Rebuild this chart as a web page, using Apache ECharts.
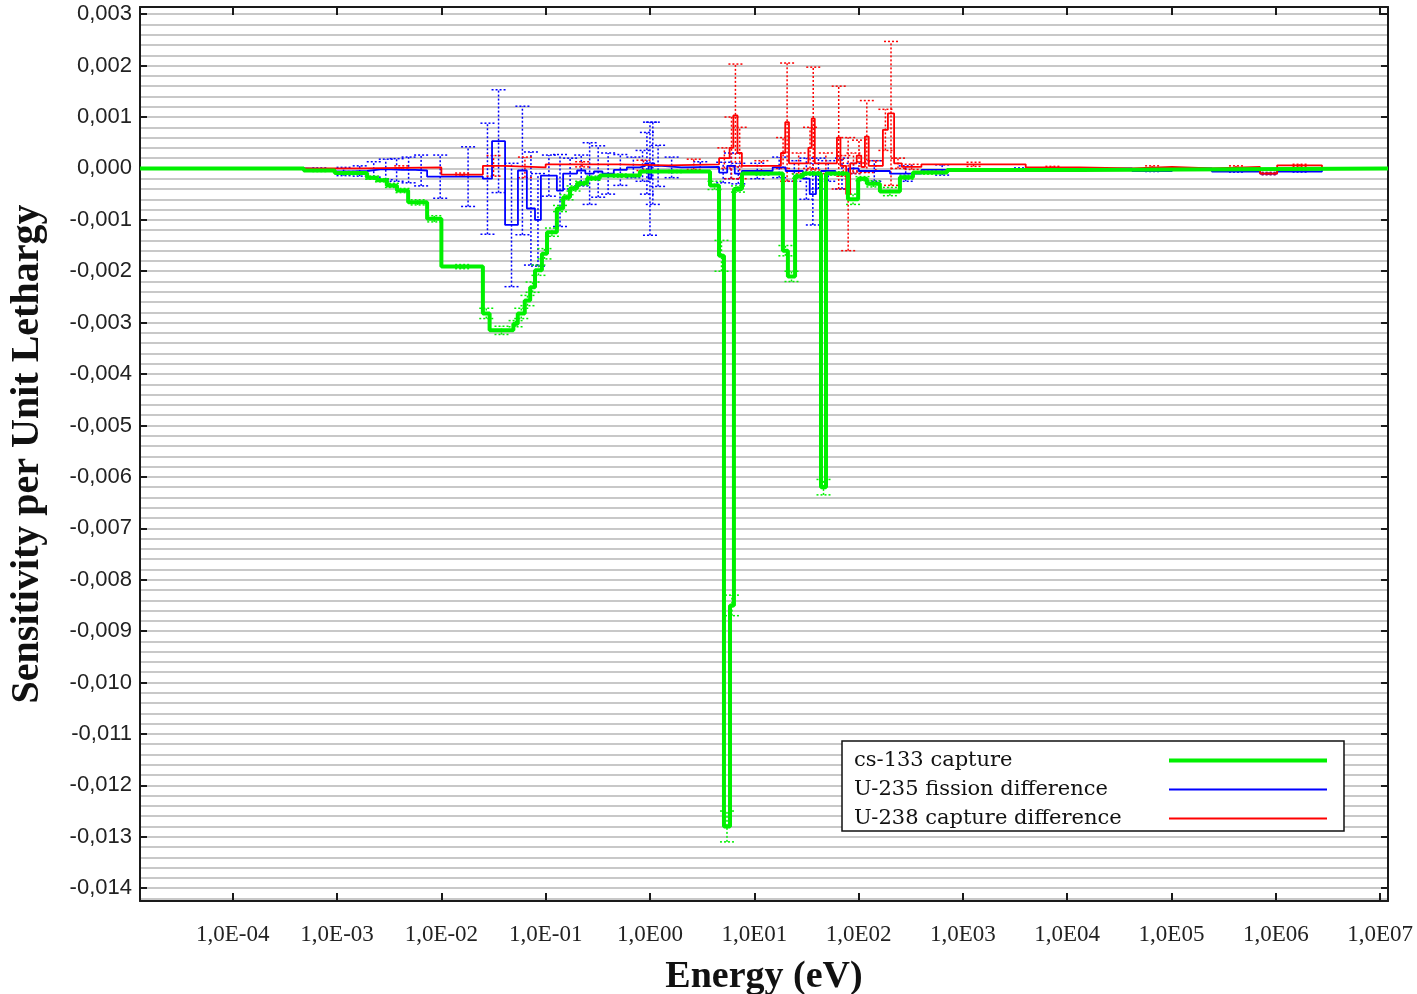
<!DOCTYPE html>
<html>
<head>
<meta charset="utf-8">
<title>Sensitivity per Unit Lethargy</title>
<script src="https://cdn.jsdelivr.net/npm/echarts@6/dist/echarts.min.js"></script>
<style>
  html, body { margin: 0; padding: 0; background: #fff; }
  #chart { width: 1417px; height: 994px; }
</style>
</head>
<body>
<div id="chart"></div>
<script>
// group boundaries (eV), sensitivity per group and 1-sigma error
const csEdges = [1.29e-5, 4.8e-4, 9.5e-4, 1.94e-3, 2.42e-3, 3.0e-3, 3.75e-3, 4.8e-3, 7.3e-3, 1.0e-2,
  2.5e-2, 2.9e-2, 4.9e-2, 5.4e-2, 6.3e-2, 7.1e-2, 7.9e-2, 9.2e-2, 0.103, 0.128, 0.147, 0.171, 0.2,
  0.25, 0.33, 0.8, 3.76, 4.59, 5.12, 5.85, 6.38, 7.62, 18.8, 21.0, 24.6, 29.3, 43.6, 48.7, 79, 99,
  120, 160, 249, 332, 705, 13270, 1.19e7]
const csValues = [0, -0.00004, -0.00009, -0.00018, -0.00023, -0.00033, -0.00043, -0.00066, -0.00098,
  -0.00191, -0.00282, -0.00315, -0.00302, -0.00282, -0.00257, -0.00231, -0.00198, -0.00166, -0.00124,
  -0.00078, -0.00056, -0.00039, -0.00029, -0.00019, -0.00014, -0.00006, -0.00033, -0.0017, -0.0128,
  -0.0085, -0.0004, -0.0001, -0.0016, -0.0021, -0.00015, -0.0001, -0.0062, -0.0001, -0.0006, -0.0002,
  -0.0003, -0.00045, -0.00017, -0.00008, -0.00003, 0]
const csErrors = [0, 0.00002, 0.00003, 0.00003, 0.00003, 0.00004, 0.00004, 0.00005, 0.00006, 0.00004,
  0.0001, 0.00008, 0.00006, 0.0001, 0.0001, 0.0001, 0.0001, 0.0001, 0.00008, 0.00006, 0.00005, 0.00005,
  0.00004, 0.00004, 0.00003, 0.00002, 0.00008, 0.0003, 0.0003, 0.0002, 0.00006, 0.00003, 0.0001, 0.0001,
  0.00004, 0.00003, 0.00015, 0.00003, 0.0001, 0.00004, 0.00006, 0.00008, 0.00004, 0.00003, 0.00002, 0]

const u235Edges = [1.29e-5, 4.8e-4, 9.5e-4, 1.4e-3, 1.94e-3, 2.6e-3, 3.3e-3, 4.2e-3, 5.6e-3, 7.3e-3,
  1.3e-2, 2.5e-2, 3.06e-2, 4.08e-2, 5.42e-2, 6.6e-2, 7.9e-2, 9.0e-2, 0.128, 0.147, 0.2, 0.24, 0.29,
  0.35, 0.45, 0.6, 0.8, 0.9, 0.97, 1.03, 1.1, 1.3, 2.0, 4.6, 5.5, 6.5, 7.6, 15, 20, 29.3, 34, 39, 43.6,
  60, 80, 100, 200, 400, 1000, 1.3e4, 4.2e4, 1.01e5, 2.44e5, 7.06e5, 1.03e6, 2.77e6, 1.19e7]
const u235Values = [0, -0.00002, -0.00006, -0.00005, -0.00002, -0.00002, -0.00003, -0.00003, -0.00004,
  -0.00016, -0.00016, -0.0002, 0.00053, -0.0011, -0.00004, -0.00078, -0.001, -0.00014, -0.00043,
  -0.0001, -0.00004, -0.0001, -0.00006, -0.0001, -0.00003, 0.00002, 0.00005, 0.0001, -0.0002, 0.0001,
  0.00005, 0.00002, 0.00003, -0.00008, 0.00005, -0.0001, -0.00005, 0.00002, -0.00005, -0.0002, -0.0005,
  -0.0001, -0.00005, -0.0001, 0, -0.00005, -0.0001, -0.00003, -0.00002, 0, -0.00005, 0, -0.00006,
  -0.0001, -0.00006, 0]
const u235Errors = [0, 0.00003, 0.00008, 0.0001, 0.00015, 0.0002, 0.00022, 0.00025, 0.0003, 0.00042,
  0.00058, 0.00108, 0.001, 0.0012, 0.00125, 0.0011, 0.0009, 0.0004, 0.0007, 0.0003, 0.0003, 0.0006,
  0.0005, 0.0004, 0.0003, 0.0002, 0.0003, 0.0006, 0.0011, 0.0008, 0.0004, 0.0002, 0.0001, 0.0002,
  0.00025, 0.0002, 0.00015, 0.0002, 0.0002, 0.0004, 0.0006, 0.0003, 0.0002, 0.0003, 0.0001, 0.0002,
  0.00015, 0.0001, 0.00003, 0, 0.00001, 0, 0.00001, 0.00002, 0.00001, 0]

const u238Edges = [1.29e-5, 1.7e-3, 1.0e-2, 2.5e-2, 4.0e-2, 0.1, 0.5, 1.5, 4.6, 5.8, 6.3, 6.9, 7.6, 18,
  19.8, 21.5, 33, 35.5, 38, 62, 67, 76, 83, 96, 106, 115, 125, 171, 191, 219, 260, 400, 4000, 1.3e4,
  4.2e4, 1.01e5, 2.44e5, 7.06e5, 1.03e6, 2.77e6, 1.19e7]
const u238Values = [0, 0.00002, -0.00012, 0.00005, 0.00002, 0.00008, 0.00006, 0.00008, 0.0002, 0.0004,
  0.00103, 0.0003, 0.00005, 0.0003, 0.0009, 0.0001, 0.0004, 0.00097, 0.0001, 0.0006, 0.00005, -0.0005,
  0.0001, 0.00025, 0.00003, 0.00062, 0.00005, 0.00075, 0.00107, 0.0001, 0.00003, 0.00008, 0.00002, 0,
  0.00003, 0, 0.00003, -0.0001, 0.00006, 0]
const u238Errors = [0, 0.00003, 0.00003, 0.0002, 0.0002, 0.00005, 0.0001, 0.0001, 0.0002, 0.0006, 0.001,
  0.0005, 0.0001, 0.0003, 0.00115, 0.0002, 0.0004, 0.001, 0.0002, 0.001, 0.0002, 0.0011, 0.0002, 0.0003,
  0.0001, 0.0007, 0.0001, 0.0004, 0.0014, 0.0001, 0.00005, 0.00004, 0.00002, 0, 0.00002, 0, 0.00002,
  0.00002, 0.00002, 0]

const seriesNames = ['cs-133 capture', 'U-235 fission difference', 'U-238 capture difference']
const seriesColors = ['#00f000', '#0000ff', '#ff0000']
const seriesWidths = [4, 1.8, 1.8]

const xMin = 1.29e-5
const xMax = 1.19e7

// histogram -> points for a step line (last value held to the upper edge)
const toSteps = (edges, values) => {
  const pts = values.map((v, i) => [edges[i], v])
  pts.push([edges[edges.length - 1], values[values.length - 1]])
  return pts
}

// one error bar per group, at the log-centre of the group
const toErrors = (edges, values, errs) => values
  .map((v, i) => [Math.sqrt(edges[i] * edges[i + 1]), v - errs[i], v + errs[i], errs[i]])
  .filter(d => d[3] > 0)

const errorBar = (color) => (params, api) => {
  const lo = api.coord([api.value(0), api.value(1)])
  const hi = api.coord([api.value(0), api.value(2)])
  const style = { stroke: color, lineWidth: 1.5, lineDash: [2, 2], fill: null }
  const w = 7
  return {
    type: 'group',
    children: [
      { type: 'line', shape: { x1: lo[0], y1: lo[1], x2: hi[0], y2: hi[1] }, style },
      { type: 'line', shape: { x1: lo[0] - w, y1: lo[1], x2: lo[0] + w, y2: lo[1] }, style },
      { type: 'line', shape: { x1: hi[0] - w, y1: hi[1], x2: hi[0] + w, y2: hi[1] }, style }
    ]
  }
}

const stepSeries = (k, data) => ({
  name: seriesNames[k], type: 'line', step: 'end', data,
  xAxisIndex: 0, yAxisIndex: 0,
  symbol: 'none', showSymbol: false,
  lineStyle: { color: seriesColors[k], width: seriesWidths[k] },
  itemStyle: { color: seriesColors[k] },
  animation: false
})

const errorSeries = (k, data) => ({
  type: 'custom', data, renderItem: errorBar(seriesColors[k]),
  xAxisIndex: 0, yAxisIndex: 0,
  encode: { x: 0, y: [1, 2] }, clip: true, silent: true, animation: false
})

const frame = { show: true, onZero: false, lineStyle: { color: '#1a1a1a', width: 2 } }
const inTick = (len) => ({ show: true, inside: true, length: len, lineStyle: { color: '#1a1a1a', width: 2 } })

// decade labels: exponent -> 1,0E-04 style
const expLabel = (e) => {
  const n = Math.round(e)
  return '1,0E' + (n < 0 ? '-' : '') + String(Math.abs(n)).padStart(2, '0')
}

// the log axis carries the data; a linear axis on log10(E) over the same span carries
// one tick per decade (the log axis itself would only tick every 10 decades here)
const xLog = { type: 'log', logBase: 10, min: xMin, max: xMax, axisTick: { show: false }, axisLabel: { show: false }, splitLine: { show: false } }
const xDecade = {
  type: 'value', min: Math.log10(xMin), max: Math.log10(xMax), splitNumber: 12,
  axisLine: { show: false, onZero: false }, axisTick: inTick(8), splitLine: { show: false }
}
const yBase = { type: 'value', min: -0.01425, max: 0.00314, splitNumber: 17 }

const chart = echarts.init(document.getElementById('chart'))

chart.setOption({
  backgroundColor: '#fff',
  animation: false,
  grid: { left: 140, right: 29, top: 7, bottom: 93, outerBoundsMode: 'none' },
  xAxis: [{
    ...xLog,
    position: 'bottom',
    name: 'Energy (eV)',
    nameLocation: 'middle',
    nameGap: 57,
    nameTextStyle: { fontFamily: 'Liberation Serif', fontWeight: 'bold', fontSize: 38, color: '#111' },
    axisLine: frame
  }, {
    ...xLog,
    position: 'top',
    axisLine: frame
  }, {
    ...xDecade,
    position: 'bottom',
    axisLabel: {
      formatter: expLabel, margin: 22, showMinLabel: false, showMaxLabel: false,
      fontFamily: 'Liberation Serif', fontSize: 23, color: '#222'
    }
  }, {
    ...xDecade,
    position: 'top',
    axisLabel: { show: false }
  }],
  yAxis: [{
    ...yBase,
    position: 'left',
    name: 'Sensitivity per Unit Lethargy',
    nameLocation: 'middle',
    nameGap: 92,
    nameTextStyle: { fontFamily: 'Liberation Serif', fontWeight: 'bold', fontSize: 40, color: '#111' },
    axisLine: frame,
    axisTick: inTick(7),
    axisLabel: {
      formatter: (v) => v.toFixed(3).replace('.', ','),
      margin: 8, showMinLabel: false, showMaxLabel: false,
      fontFamily: 'Liberation Sans', fontSize: 22, color: '#222'
    },
    splitLine: { show: true, lineStyle: { color: '#c8c8c8', width: 2 } },
    minorTick: { show: false, splitNumber: 5 },
    minorSplitLine: { show: true, lineStyle: { color: '#c8c8c8', width: 2 } }
  }, {
    ...yBase,
    position: 'right',
    axisLine: frame,
    axisTick: inTick(7),
    axisLabel: { show: false },
    splitLine: { show: false }
  }],
  legend: {
    data: seriesNames.map((name, k) => ({ name, lineStyle: { width: seriesWidths[k] } })),
    left: 842,
    top: 741,
    orient: 'vertical',
    align: 'right',
    itemWidth: 158,
    itemHeight: 14,
    itemGap: 8,
    padding: [9, 15, 2, 12],
    backgroundColor: '#fff',
    borderColor: '#111',
    borderWidth: 1.5,
    borderRadius: 0,
    selectedMode: false,
    itemStyle: { opacity: 0 },
    formatter: '{t|{name}}',
    textStyle: {
      color: '#111',
      rich: { t: { fontFamily: 'DejaVu Serif', fontSize: 21, color: '#111', width: 310, align: 'left', lineHeight: 20 } }
    }
  },
  series: [
    errorSeries(1, toErrors(u235Edges, u235Values, u235Errors)),
    stepSeries(1, toSteps(u235Edges, u235Values)),
    errorSeries(2, toErrors(u238Edges, u238Values, u238Errors)),
    stepSeries(2, toSteps(u238Edges, u238Values)),
    errorSeries(0, toErrors(csEdges, csValues, csErrors)),
    stepSeries(0, toSteps(csEdges, csValues))
  ]
})

window.addEventListener('resize', () => chart.resize())
</script>
</body>
</html>
